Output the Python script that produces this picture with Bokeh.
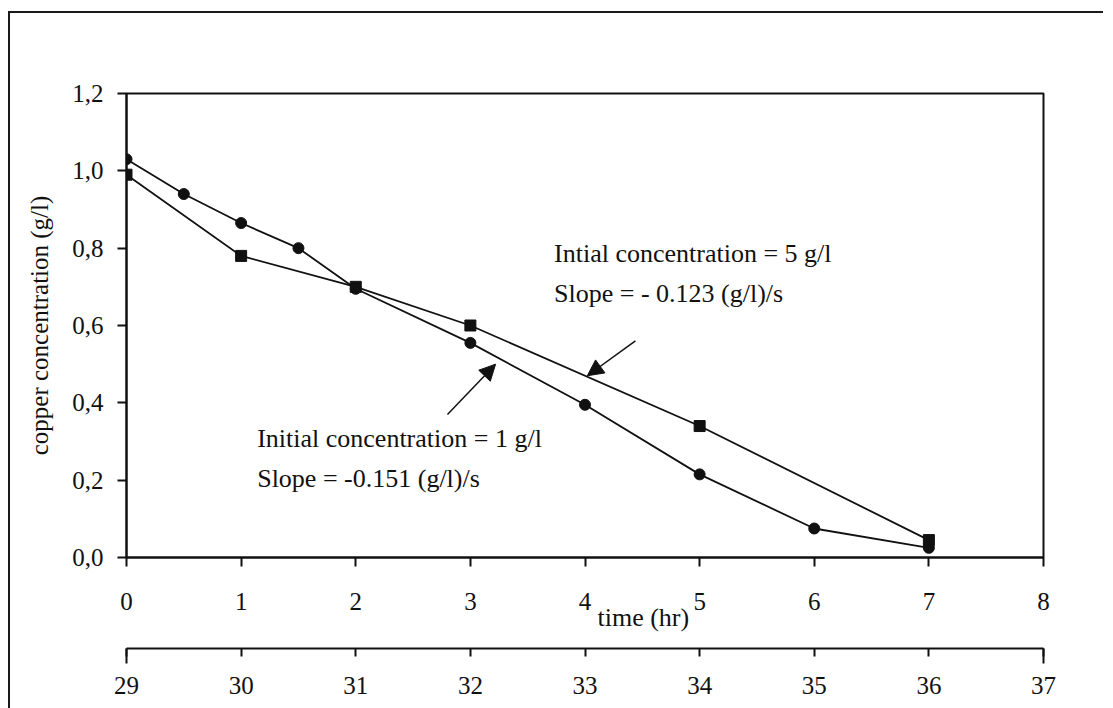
from bokeh.plotting import figure
from bokeh.models import Range1d, LinearAxis, FixedTicker, Label, Arrow, NormalHead, Title
from bokeh.embed import file_html
from bokeh.resources import INLINE

# Copper concentration vs electrolysis time
time_1gl = [0, 0.5, 1, 1.5, 2, 3, 4, 5, 6, 7]
conc_1gl = [1.03, 0.94, 0.865, 0.80, 0.695, 0.555, 0.395, 0.215, 0.075, 0.025]

time_5gl = [0, 1, 2, 3, 5, 7]
conc_5gl = [0.99, 0.78, 0.70, 0.60, 0.34, 0.045]

y_ticks = [0.0, 0.2, 0.4, 0.6, 0.8, 1.0, 1.2]
y_tick_labels = ["0,0", "0,2", "0,4", "0,6", "0,8", "1,0", "1,2"]
x_ticks = [0, 1, 2, 3, 4, 5, 6, 7, 8]
clock_ticks = [29, 30, 31, 32, 33, 34, 35, 36, 37]

SERIF = "Liberation Serif"
INK = "#111111"

p = figure(
    frame_width=917, frame_height=464,
    x_range=Range1d(0, 8), y_range=Range1d(0, 1.2),
    output_backend="svg", toolbar_location=None,
    min_border_left=116, min_border_top=80,
    min_border_right=60, min_border_bottom=151,
    x_axis_location=None, y_axis_location=None,
)
p.styles = {
    "margin-left": "8px", "margin-top": "11px",
    "border-left": "2px solid #1a1a1a", "border-top": "2px solid #1a1a1a",
}
p.background_fill_color = "white"
p.border_fill_color = "white"
p.outline_line_color = INK
p.outline_line_width = 2
p.xgrid.visible = False
p.ygrid.visible = False

# left axis
yax = LinearAxis(ticker=FixedTicker(ticks=y_ticks),
                 major_label_overrides={t: s for t, s in zip(y_ticks, y_tick_labels)})
yax.axis_label = "copper concentration (g/l)"
yax.axis_label_text_font = SERIF
yax.axis_label_text_font_style = "normal"
yax.axis_label_text_font_size = "25px"
yax.axis_label_text_color = INK
yax.axis_label_standoff = 16
p.add_layout(yax, "left")

# time axis
xax = LinearAxis(ticker=FixedTicker(ticks=x_ticks))
p.add_layout(xax, "below")

# time axis title, set just right of the "4" tick
p.add_layout(Title(text="time (hr)", align="left", offset=471, standoff=-24,
                   text_font=SERIF, text_font_size="26px",
                   text_font_style="normal", text_color=INK), "below")
# blank gap above the clock axis
p.add_layout(Title(text="\u00a0", standoff=5, text_font_size="20px"), "below")

# clock axis below the time axis, with longer end ticks
p.extra_x_ranges = {"clock": Range1d(29, 37)}
cax = LinearAxis(x_range_name="clock",
                 ticker=FixedTicker(ticks=clock_ticks,
                                    minor_ticks=[clock_ticks[0], clock_ticks[-1]]))
p.add_layout(cax, "below")

for ax in (yax, xax, cax):
    ax.axis_line_color = INK
    ax.axis_line_width = 2
    ax.major_tick_line_color = INK
    ax.major_tick_line_width = 2
    ax.major_tick_in = 0
    ax.major_tick_out = 9
    ax.minor_tick_line_color = None
    ax.major_label_text_font = SERIF
    ax.major_label_text_font_size = "25px"
    ax.major_label_text_color = INK

yax.major_label_standoff = 14
xax.major_label_standoff = 26
cax.major_tick_out = 8
cax.minor_tick_line_color = INK
cax.minor_tick_line_width = 2
cax.minor_tick_in = 0
cax.minor_tick_out = 15
cax.major_label_standoff = 13

# series
p.line(time_1gl, conc_1gl, line_color=INK, line_width=1.8)
p.scatter(time_1gl, conc_1gl, marker="circle", size=11, fill_color=INK, line_color=INK)
p.line(time_5gl, conc_5gl, line_color=INK, line_width=1.8)
p.scatter(time_5gl, conc_5gl, marker="square", size=11, fill_color=INK, line_color=INK)

# annotations
ann = dict(text_font=SERIF, text_font_size="26px", text_color=INK, text_baseline="middle")
p.add_layout(Label(x=3.73, y=0.786, text="Intial concentration = 5 g/l", **ann))
p.add_layout(Label(x=3.73, y=0.683, text="Slope =  - 0.123 (g/l)/s", **ann))
p.add_layout(Label(x=1.14, y=0.308, text="Initial concentration = 1 g/l", **ann))
p.add_layout(Label(x=1.14, y=0.205, text="Slope = -0.151 (g/l)/s", **ann))

head = dict(size=16, fill_color=INK, line_color=INK, line_width=1)
p.add_layout(Arrow(end=NormalHead(**head), x_start=4.44, y_start=0.56,
                   x_end=4.02, y_end=0.47, line_color=INK, line_width=1.5))
p.add_layout(Arrow(end=NormalHead(**head), x_start=2.80, y_start=0.37,
                   x_end=3.22, y_end=0.50, line_color=INK, line_width=1.5))

open("out.html", "w").write(file_html(p, INLINE))
